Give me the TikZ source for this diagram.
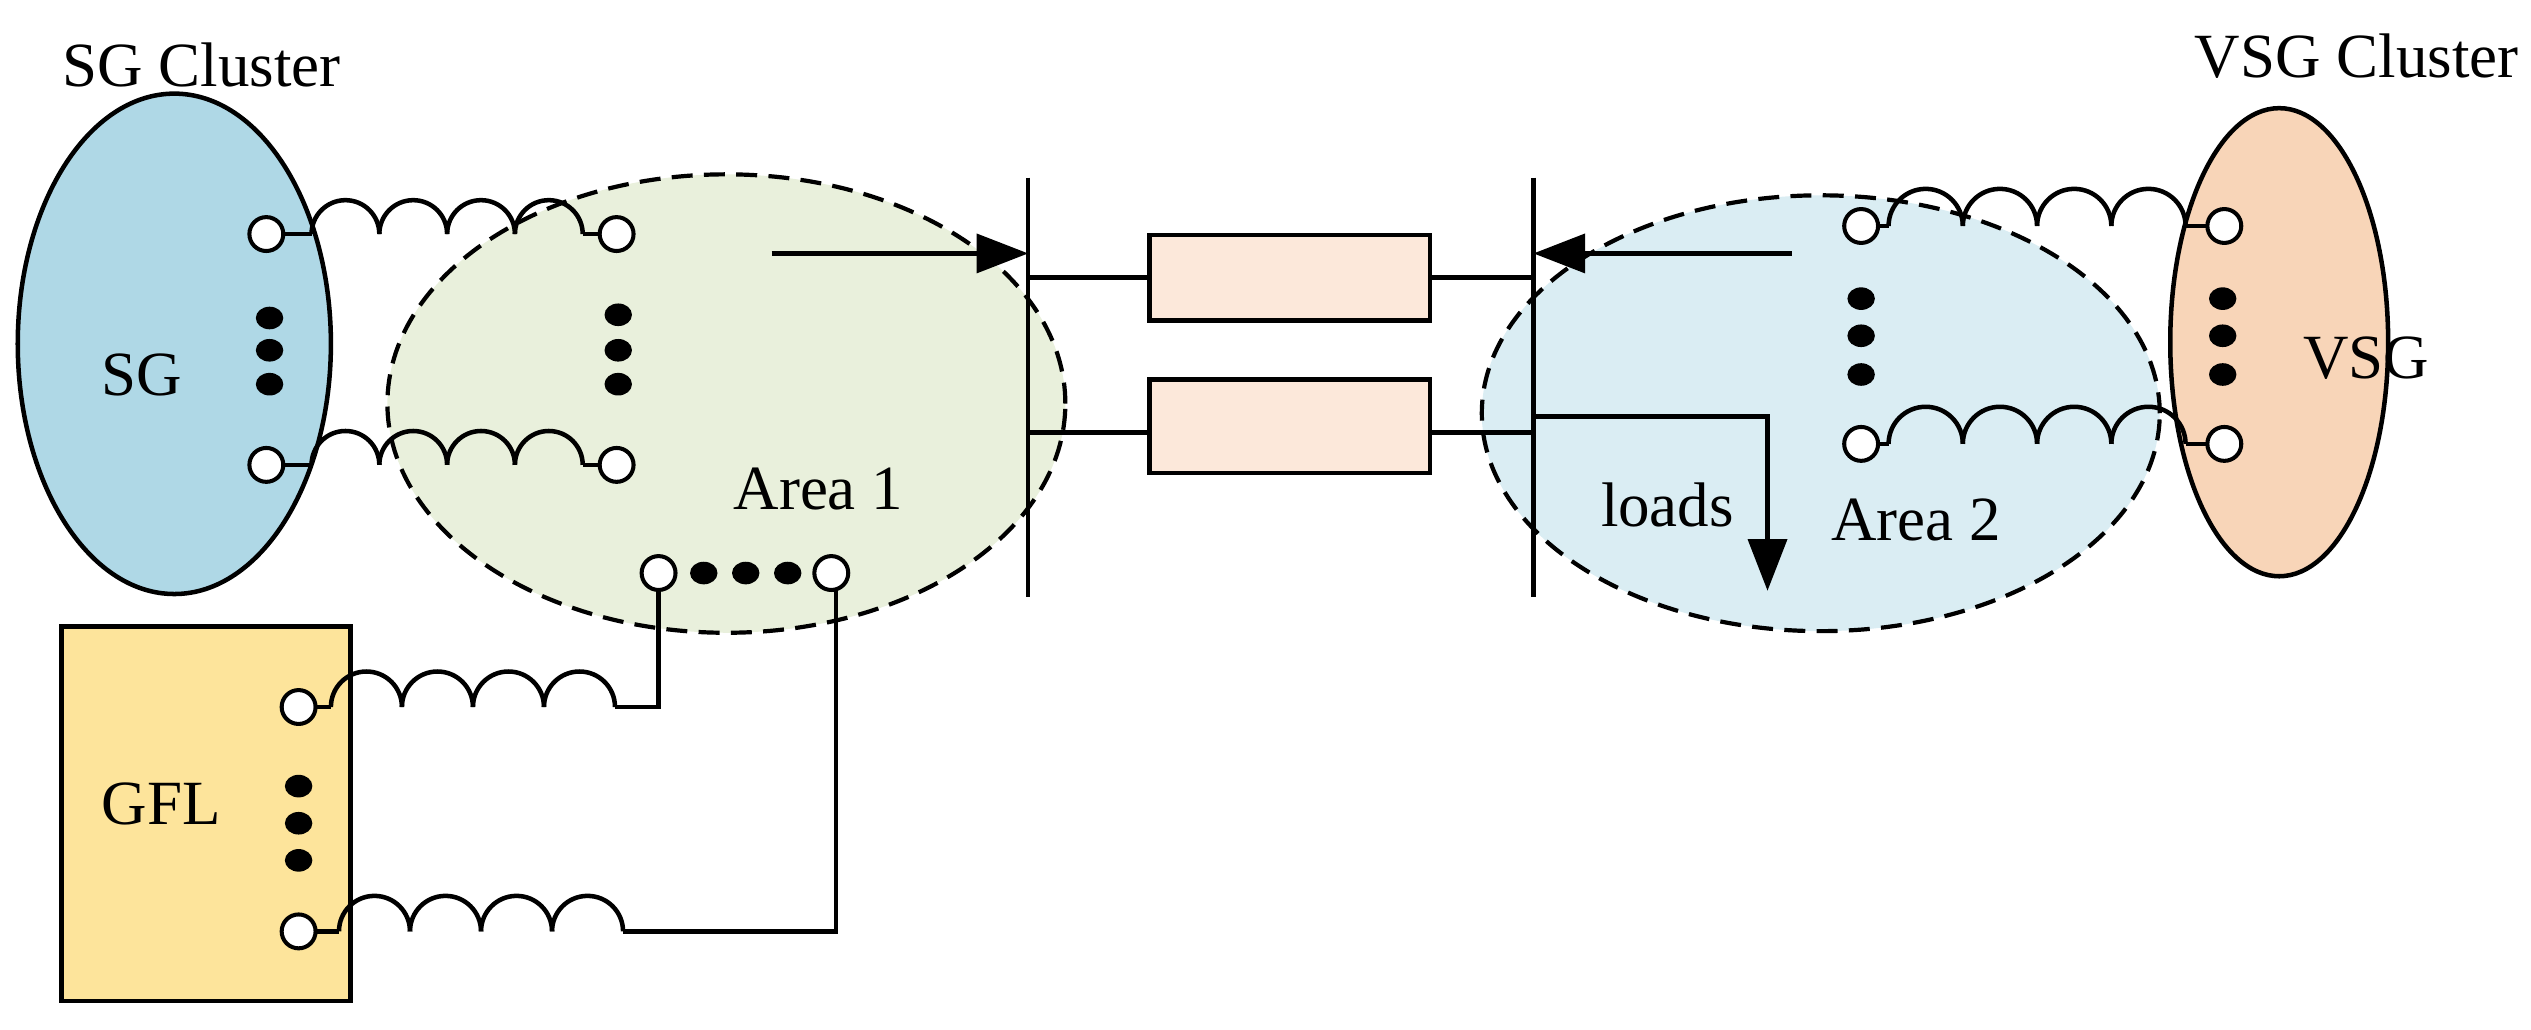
\documentclass[tikz,border=0pt]{standalone}
\usepackage{fontspec}
\setmainfont{Liberation Serif}
\usetikzlibrary{arrows.meta,shapes.geometric}
\begin{document}
\begin{tikzpicture}[x=1pt,y=-1pt,line width=2.8pt,
  term/.style={circle,draw,fill=white,inner sep=0pt,minimum size=21pt,line width=2.5pt},
  dotc/.style={ellipse,fill=black,inner sep=0pt,minimum width=17pt,minimum height=14pt},
  lbl/.style={font=\fontsize{39}{39}\selectfont,inner sep=0pt},
  dashedge/.style={draw,dash pattern=on 13pt off 7pt,line width=2.6pt},
  arr/.style={-{Triangle[length=32pt,width=24pt]}}]
\useasboundingbox (0,0) rectangle (1568,638);
\newcommand{\mycoil}[4]{\foreach \k in {1,...,#3}{\draw (#1+2*#4*\k-2*#4,#2) arc (180:360:#4);}}
% SG cluster
\node[ellipse,draw,minimum width=194pt,minimum height=310pt,fill={rgb,255:red,175;green,216;blue,230}] (sg) at (108,213) {};
\node[lbl] (sgc) at (125,40) {SG Cluster};
\node[lbl] (sgt) at (88,232) {SG};
\foreach \y in {197,217,238} \node[dotc] at (167,\y) {};
% Area1
\node[ellipse,dashedge,fill={rgb,255:red,233;green,240;blue,220},minimum width=420pt,minimum height=284pt] (a1) at (450,250) {};
\foreach \y in {195,217,238} \node[dotc] at (383,\y) {};
\node[lbl] (a1t) at (507,303) {Area 1};
% SG coils
\foreach \y/\n in {145/u,288/l}{
  \draw (165,\y) -- (193,\y);
  \mycoil{193}{\y}{4}{21}
  \draw (361,\y) -- (382,\y);
  \node[term] (sgl\n) at (165,\y) {};
  \node[term] (sgr\n) at (382,\y) {};
}
% GFL
\node[draw,fill={rgb,255:red,253;green,228;blue,155},minimum width=179pt,minimum height=232pt,inner sep=0pt] (gfl) at (127.5,504) {};
\node[lbl] (gflt) at (100,498) {GFL};
\foreach \y in {487,510,533} \node[dotc] at (185,\y) {};
\coordinate (ta) at (408,355);
\coordinate (tb) at (515,355);
\draw (185,438) -- (205,438); \mycoil{205}{438}{4}{22}
\draw (381,438) -- (408,438) -- (ta);
\draw (185,577) -- (210,577); \mycoil{210}{577}{4}{22}
\draw (386,577) -- (518,577) -- (518,355);
\node[term] (g1) at (185,438) {};
\node[term] (g2) at (185,577) {};
\node[term] (c1) at (ta) {};
\node[term] (c2) at (tb) {};
\foreach \x in {436,462,488} \node[dotc] at (\x,355) {};
% Area2
\node[ellipse,dashedge,fill={rgb,255:red,218;green,237;blue,243},minimum width=420pt,minimum height=270pt] (a2) at (1128,256) {};
% VSG
\node[ellipse,draw,fill={rgb,255:red,248;green,213;blue,184},minimum width=135pt,minimum height=290pt] (vsg) at (1412,212) {};
\node[lbl] (vsgc) at (1460,35) {VSG Cluster};
\node[lbl] (vsgt) at (1466,222) {VSG};
\foreach \y in {185,208,232} \node[dotc] at (1377,\y) {};
\foreach \y in {185,208,232} \node[dotc] at (1153,\y) {};
\foreach \y/\n in {140/u,275/l}{
  \draw (1153,\y) -- (1170,\y); \mycoil{1170}{\y}{4}{23}
  \draw (1354,\y) -- (1378,\y);
  \node[term] (vl\n) at (1153,\y) {};
  \node[term] (vr\n) at (1378,\y) {};
}
\node[lbl] (a2t) at (1187,322) {Area 2};
% buses and lines
\coordinate (b1t) at (637,110); \coordinate (b1b) at (637,370);
\coordinate (b2t) at (950,110); \coordinate (b2b) at (950,370);
\draw (b1t) -- (b1b); \draw (b2t) -- (b2b);
\node[draw,fill={rgb,255:red,252;green,232;blue,218},minimum width=174pt,minimum height=53pt,inner sep=0pt] (r1) at (799,172) {};
\node[draw,fill={rgb,255:red,252;green,232;blue,218},minimum width=174pt,minimum height=58pt,inner sep=0pt] (r2) at (799,264) {};
\draw (637,172) -- (r1.west); \draw (r1.east) -- (950,172);
\draw (637,268) -- (712,268); \draw (886,268) -- (950,268);
\coordinate (p1) at (478,157); \coordinate (p2) at (1110,157);
\draw[arr] (p1) -- (637,157);
\draw[arr] (p2) -- (950,157);
\draw[arr] (950,258) -- (1095,258) -- (1095,366);
\node[lbl] (ld) at (1033,313) {loads};
\end{tikzpicture}
\end{document}
